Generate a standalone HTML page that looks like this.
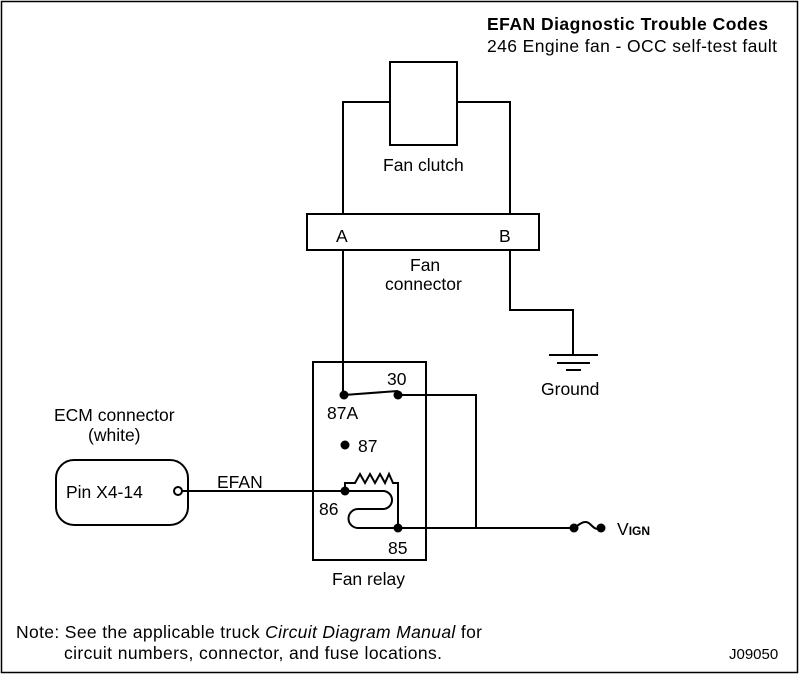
<!DOCTYPE html>
<html><head><style>
body{margin:0;background:#fff}
svg{display:block}
text{font-family:"Liberation Sans",Arial,sans-serif;font-size:17.5px;fill:#000}
</style></head><body>
<svg width="800" height="680" viewBox="0 0 800 680" xmlns="http://www.w3.org/2000/svg">
<rect x="1.5" y="1.5" width="796" height="671" fill="#fff" stroke="#000" stroke-width="1.5"/>
<text x="487" y="30" font-weight="bold" style="font-weight:bold;font-size:17.5px" textLength="281">EFAN Diagnostic Trouble Codes</text>
<text x="487" y="52" textLength="290">246 Engine fan - OCC self-test fault</text>
<g fill="none" stroke="#000" stroke-width="2">
<rect x="390" y="62" width="67" height="83"/>
<polyline points="343,214 343,102 390,102"/>
<polyline points="457,102 510,102 510,214"/>
<rect x="307" y="214" width="232" height="36"/>
<polyline points="343,250 343,395"/>
<polyline points="510,250 510,310 573,310 573,355"/>
<line x1="549" y1="355" x2="598" y2="355"/>
<line x1="557" y1="363" x2="590" y2="363"/>
<line x1="566" y1="370" x2="581" y2="370"/>
<rect x="313" y="362" width="113" height="198"/>
<polyline points="344,395 398,391"/>
<polyline points="398,395 476,395 476,528"/>
<rect x="56" y="460" width="132" height="65" rx="18"/>
<circle cx="178" cy="491" r="4" fill="#fff"/>
<line x1="182" y1="491" x2="345" y2="491"/>
<polyline points="345,491 345,483 355,483 360,474 365,483 370,474 375,483 380,474 385,483 389,474 393,483 398,483 398,528"/>
<path d="M345,491 L383,491 A9,9 0 0 1 383,509 L358,509 A9.5,9.5 0 0 0 358,528 L398,528"/>
<line x1="398" y1="528" x2="572" y2="528"/>
<path d="M574,528 C582,522 586,520 590,524 C594,528 596,530 600,528"/>
</g>
<g fill="#000">
<circle cx="344" cy="395" r="4.5"/>
<circle cx="398" cy="395" r="4.5"/>
<circle cx="345" cy="445" r="4.5"/>
<circle cx="345" cy="491" r="4.5"/>
<circle cx="398" cy="528" r="4.5"/>
<circle cx="574" cy="528" r="4.5"/>
<circle cx="601" cy="528" r="4.5"/>
</g>
<text x="383" y="171">Fan clutch</text>
<text x="336" y="242">A</text>
<text x="499" y="242">B</text>
<text x="410" y="271">Fan</text>
<text x="385" y="290">connector</text>
<text x="541" y="395">Ground</text>
<text x="387" y="385">30</text>
<text x="327" y="419">87A</text>
<text x="358" y="452">87</text>
<text x="319" y="515">86</text>
<text x="388" y="554">85</text>
<text x="332" y="585">Fan relay</text>
<text x="54" y="421">ECM connector</text>
<text x="88" y="441">(white)</text>
<text x="66" y="498">Pin X4-14</text>
<text x="217" y="488">EFAN</text>
<text x="617" y="535">V<tspan style="font-size:12px;font-weight:bold">IGN</tspan></text>
<text x="16" y="638" textLength="466">Note: See the applicable truck <tspan font-style="italic" style="font-style:italic">Circuit Diagram Manual</tspan> for</text>
<text x="64" y="659" textLength="378">circuit numbers, connector, and fuse locations.</text>
<text x="729" y="659" style="font-size:15px">J09050</text>
</svg>
</body></html>
